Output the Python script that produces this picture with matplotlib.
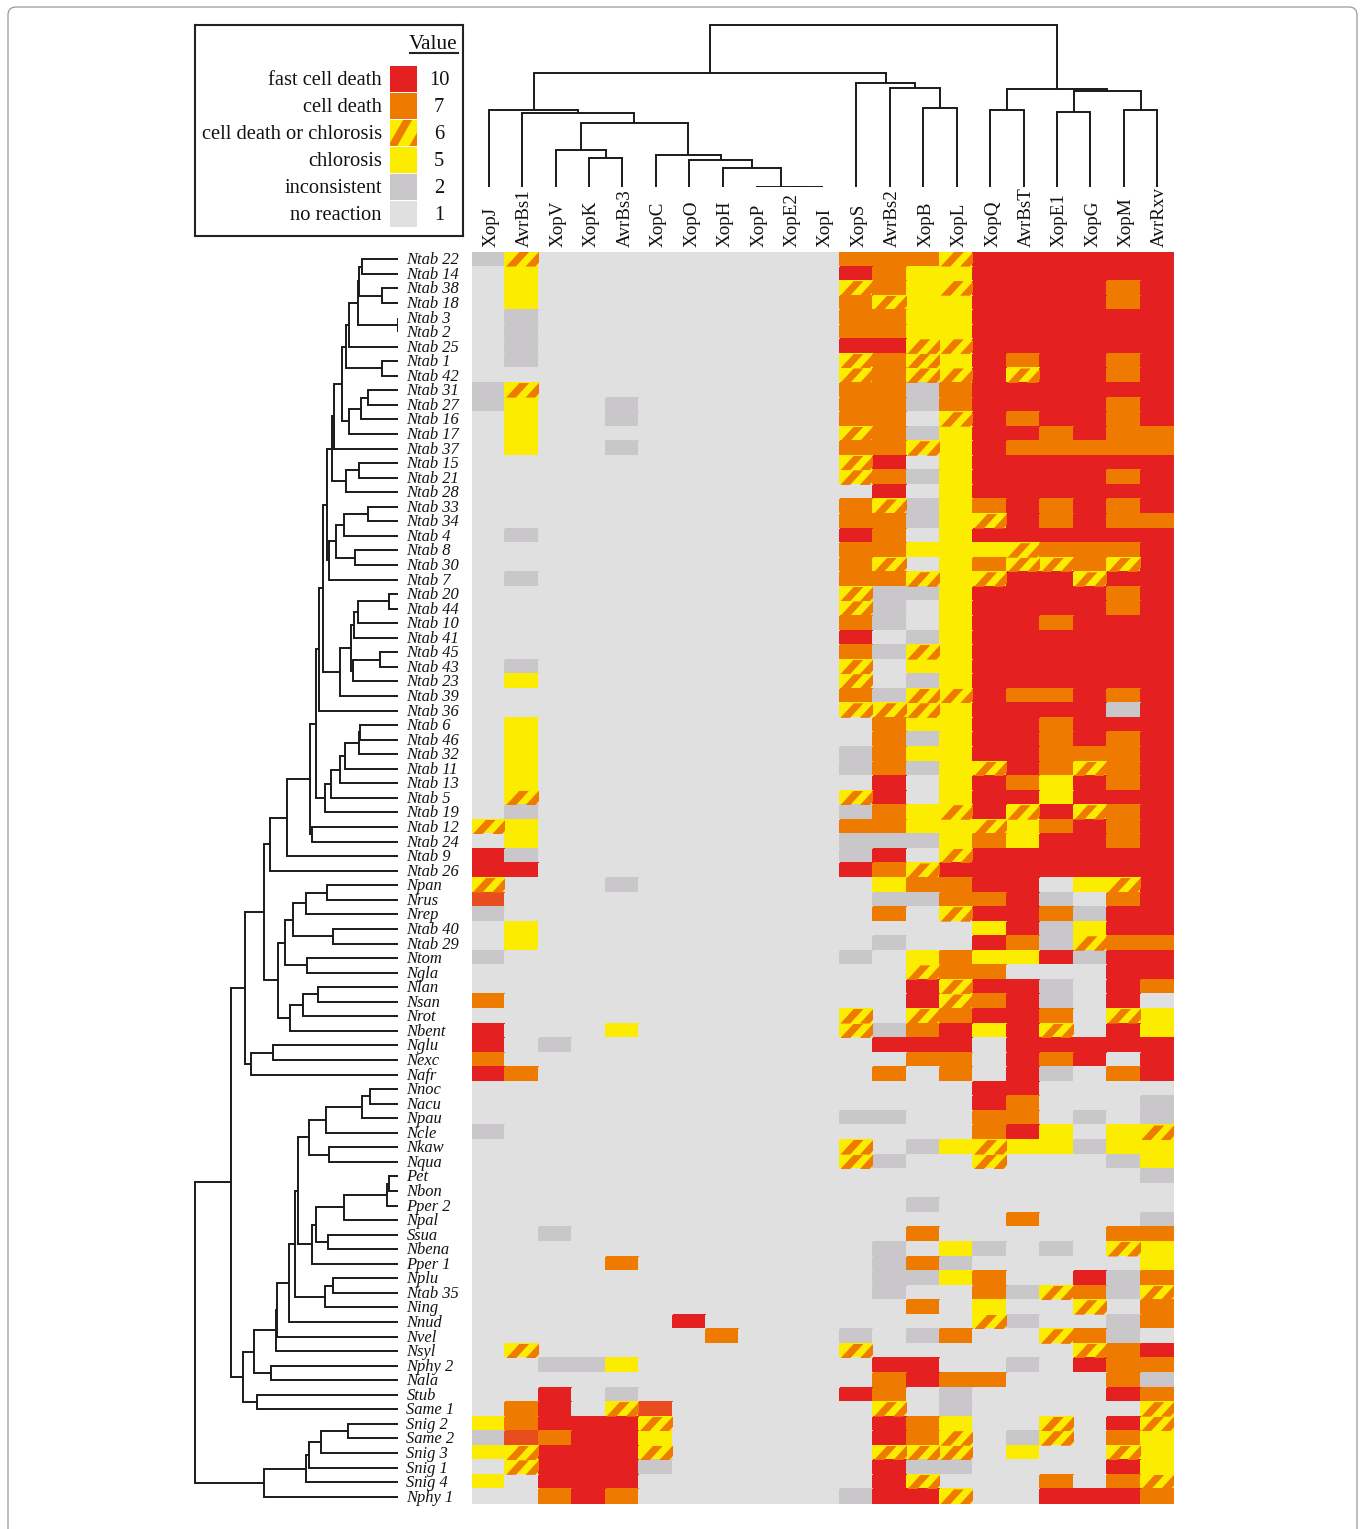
import matplotlib
matplotlib.use("Agg")
import matplotlib.pyplot as plt
from matplotlib.colors import ListedColormap, BoundaryNorm
from matplotlib.patches import Polygon, Rectangle, FancyBboxPatch
from matplotlib.transforms import ScaledTranslation

W, H = 1360, 1529
plt.rcParams['font.family'] = ['Liberation Serif', 'DejaVu Serif']

effectors = ["XopJ", "AvrBs1", "XopV", "XopK", "AvrBs3", "XopC", "XopO", "XopH", "XopP", "XopE2", "XopI",
             "XopS", "AvrBs2", "XopB", "XopL", "XopQ", "AvrBsT", "XopE1", "XopG", "XopM", "AvrRxv"]

taxa = ["Ntab 22", "Ntab 14", "Ntab 38", "Ntab 18", "Ntab 3", "Ntab 2", "Ntab 25", "Ntab 1", "Ntab 42", "Ntab 31",
        "Ntab 27", "Ntab 16", "Ntab 17", "Ntab 37", "Ntab 15", "Ntab 21", "Ntab 28", "Ntab 33", "Ntab 34", "Ntab 4",
        "Ntab 8", "Ntab 30", "Ntab 7", "Ntab 20", "Ntab 44", "Ntab 10", "Ntab 41", "Ntab 45", "Ntab 43", "Ntab 23",
        "Ntab 39", "Ntab 36", "Ntab 6", "Ntab 46", "Ntab 32", "Ntab 11", "Ntab 13", "Ntab 5", "Ntab 19", "Ntab 12",
        "Ntab 24", "Ntab 9", "Ntab 26", "Npan", "Nrus", "Nrep", "Ntab 40", "Ntab 29", "Ntom", "Ngla",
        "Nlan", "Nsan", "Nrot", "Nbent", "Nglu", "Nexc", "Nafr", "Nnoc", "Nacu", "Npau",
        "Ncle", "Nkaw", "Nqua", "Pet", "Nbon", "Pper 2", "Npal", "Ssua", "Nbena", "Pper 1",
        "Nplu", "Ntab 35", "Ning", "Nnud", "Nvel", "Nsyl", "Nphy 2", "Nala", "Stub", "Same 1",
        "Snig 2", "Same 2", "Snig 3", "Snig 1", "Snig 4", "Nphy 1"]

# Scores per taxon: N no reaction, G inconsistent, Y chlorosis, H cell death or chlorosis,
# O cell death, E strong cell death, R fast cell death.
# First block: XopJ ... XopI (trailing N omitted)
scores_first = ["GH", "NY", "NY", "NY", "NG", "NG", "NG", "NG", "N", "GH",
                "GYNNG", "NYNNG", "NY", "NYNNG", "N", "N", "N", "N", "N", "NG",
                "N", "N", "NG", "N", "N", "N", "N", "N", "NG", "NY",
                "N", "N", "NY", "NY", "NY", "NY", "NY", "NH", "NG", "HY",
                "NY", "RG", "RR", "HNNNG", "E", "G", "NY", "NY", "G", "N",
                "N", "O", "N", "RNNNY", "RNG", "O", "RO", "N", "N", "N",
                "G", "N", "N", "N", "N", "N", "N", "NNG", "N", "NNNNO",
                "N", "N", "N", "NNNNNNR", "NNNNNNNO", "NH", "NNGGY", "N", "NNRNG", "NORNHE",
                "YORRRH", "GEORRY", "YHRRRH", "NHRRRG", "YNRRR", "NNORO"]
# Second block: XopS ... AvrRxv
scores_second = ["OOOHRRRRRR", "ROYYRRRRRR", "HOYHRRRROR", "OHYYRRRROR", "OOYYRRRRRR", "OOYYRRRRRR",
                 "RRHHRRRRRR", "HOHYRORROR", "HOHHRHRROR", "OOGORRRRRR", "OOGORRRROR", "OONHRORROR",
                 "HOGYRRORRO"[:8] + "OO", "OOHYROOOOO", "HRNYRRRRRR", "HOGYRRRROR", "NRNYRRRRRR", "OHGYOROROR",
                 "OOGYHROROO", "RONYRRRRRR", "OOYYYHOOOR", "OHNYOHHOHR", "OOHYHRRHRR", "HGGYRRRROR",
                 "HGNYRRRROR", "OGNYRRORRR", "RNGYRRRRRR", "OGHYRRRRRR", "HNYYRRRRRR", "HNGYRRRRRR",
                 "OGHHROOROR", "HHHYRRRRGR", "NOYYRRORRR", "NOGYRROROR", "GOYYRROOOR", "GOGYHROHOR",
                 "NRNYROYROR", "HRNYRRYRRR", "GOYHRHRHOR", "OOYYHYOROR", "GGGYOYRROR", "GRNHRRRRRR",
                 "ROHRRRRRRR", "NYOORRNYHR", "NGGOORGNOR", "NONHRROGRR", "NNNNYRGYRR", "NGNNROGHOO",
                 "GNYOYYRGRR", "NNHOONNNRR", "NNRHRRGNRO", "NNRHORGNRN", "HNHORRONHY", "HGORYRHNRY",
                 "NRRRNRRRRR", "NNOONRORNR", "NONONRGNOR", "NNNNRRNNNN", "NNNNRONNNG", "GGNNOONGNG",
                 "NNNNORYNYH", "HNGYHYYGYY", "HGNNHNNNGY", "NNNNNNNNNG", "NNNNNNNNNN", "NNGNNNNNNN",
                 "NNNNNONNNG", "NNONNNNNOO", "NGNYGNGNHY", "NGOGNNNNNY", "NGGYONNRGO", "NGNNOGHOGH",
                 "NNONYNNHNO", "NNNNHGNNGO", "GNGONNHOGN", "HNNNNNNHOR", "NRRNNGNROO", "NOROONNNOG",
                 "RONGNNNNRO", "NHNGNNNNNH", "NROYNNHNRH", "NROHNGHNOY", "NHHHNYNNHY", "NRGGNNNNRY",
                 "NRHNNNONOH", "GRRHNNRRRO"]

score_codes = "NGYHOER"
score_values = [1, 2, 5, 6, 7, 8, 10]
score_colors = ["#E0E0E0", "#C9C7C9", "#FCEC00", "#FCEC00", "#EE7B00", "#E84D20", "#E52020"]

legend_names = ["fast cell death", "cell death", "cell death or chlorosis", "chlorosis", "inconsistent", "no reaction"]
legend_values = [10, 7, 6, 5, 2, 1]
legend_colors = ["#E52020", "#EE7B00", "#FCEC00", "#FCEC00", "#C9C7C9", "#E0E0E0"]

# Dendrograms: (first leaf of branch A, first leaf of branch B, merge distance)
column_merges = [(3, 4, 28.7), (2, 3, 36.7), (9, 10, 0.0), (8, 9, 0.0), (7, 8, 18.7), (6, 7, 26.7), (5, 6, 31.7),
                 (2, 5, 64.0), (1, 2, 74.0), (0, 1, 76.7), (13, 14, 79.0), (12, 13, 99.4), (11, 12, 104.0),
                 (0, 11, 114.4), (15, 16, 76.7), (17, 18, 75.0), (19, 20, 77.4), (17, 19, 96.0), (15, 17, 98.0),
                 (0, 15, 161.7)]
row_merges = [(0, 1, 36.3), (2, 3, 16.0), (0, 2, 39.3), (4, 5, 0.3), (0, 4, 40.0), (0, 6, 49.0), (7, 8, 16.0),
              (0, 7, 52.7), (9, 10, 30.0), (9, 11, 37.3), (9, 12, 49.0), (0, 9, 56.7), (0, 13, 64.3), (14, 15, 39.3),
              (14, 16, 52.3), (0, 14, 66.7), (17, 18, 30.0), (17, 19, 54.7), (20, 21, 43.3), (17, 20, 62.0),
              (17, 22, 69.3), (0, 17, 71.3), (23, 24, 9.7), (23, 25, 40.0), (23, 26, 44.3), (27, 28, 18.7),
              (27, 29, 45.3), (23, 27, 47.0), (23, 30, 58.3), (0, 23, 75.3), (0, 31, 79.7), (32, 33, 38.0),
              (32, 34, 39.3), (32, 35, 53.7), (32, 36, 58.3), (32, 37, 67.0), (32, 38, 73.7), (0, 32, 82.7),
              (39, 40, 86.3), (0, 39, 88.3), (0, 41, 111.7), (0, 42, 129.0), (43, 44, 71.0), (43, 45, 92.3),
              (46, 47, 65.7), (43, 46, 105.7), (48, 49, 91.3), (43, 48, 114.0), (50, 51, 80.3), (50, 52, 95.0),
              (50, 53, 109.0), (43, 50, 120.3), (0, 43, 134.7), (54, 55, 125.7), (54, 56, 147.3), (0, 54, 153.3),
              (57, 58, 28.7), (57, 59, 36.7), (57, 60, 72.3), (61, 62, 69.0), (57, 61, 89.3), (63, 64, 9.7),
              (63, 65, 11.3), (63, 66, 54.7), (67, 68, 70.0), (63, 67, 82.7), (63, 69, 86.0), (57, 63, 101.0),
              (70, 71, 65.0), (70, 72, 73.0), (57, 70, 104.0), (57, 73, 110.0), (57, 74, 121.7), (57, 75, 123.0),
              (76, 77, 127.7), (57, 76, 144.0), (78, 79, 141.3), (57, 78, 155.3), (0, 57, 167.7), (80, 81, 50.0),
              (80, 82, 77.0), (80, 83, 89.3), (80, 84, 92.7), (80, 85, 135.0), (0, 80, 203.3)]


def px_axes(fig, left, top, right, bottom, **kw):
    return fig.add_axes([left / W, 1 - bottom / H, (right - left) / W, (bottom - top) / H], **kw)


def stripes(ax, x, y, w, h, shift, width, period, start):
    """Orange diagonal stripes over one cell; (x, y) is the top-left, y grows downward."""
    clip = Rectangle((x, y), w, h, transform=ax.transData)
    off = start
    while off < 1.0:
        pts = [(x + off * w, y + h), (x + (off + shift) * w, y),
               (x + (off + shift + width) * w, y), (x + (off + width) * w, y + h)]
        poly = Polygon(pts, closed=True, facecolor="#EE7B00", edgecolor="none", zorder=3)
        ax.add_patch(poly)
        poly.set_clip_path(clip)
        off += period


def dendrogram(ax, merges, n, horizontal, lw=1.4):
    """Draw merges; each node sits at the midpoint of its two branches."""
    node = {i: (i + 0.5, 0.0) for i in range(n)}
    for a, b, d in merges:
        pa, da = node[a]
        pb, db = node[b]
        pos = [pa, pa, pb, pb]
        dist = [da, d, d, db]
        if horizontal:
            ax.plot(pos, dist, color="#1a1a1a", lw=lw, solid_joinstyle="miter", solid_capstyle="butt")
        else:
            ax.plot(dist, pos, color="#1a1a1a", lw=lw, solid_joinstyle="miter", solid_capstyle="butt")
        node[a] = ((pa + pb) / 2, d)


fig = plt.figure(figsize=(W / 100, H / 100), dpi=100, facecolor="white")

# page frame
bg = fig.add_axes([0, 0, 1, 1], zorder=-1)
bg.set_xlim(0, W)
bg.set_ylim(H, 0)
bg.axis("off")
bg.add_patch(FancyBboxPatch((8, 7), 1349, 1530, boxstyle="round,pad=0,rounding_size=8",
                            facecolor="white", edgecolor="#9a9a9a", lw=0.9))

# heat map
matrix = []
for first, second in zip(scores_first, scores_second):
    codes = first.ljust(11, "N") + second
    matrix.append([score_values[score_codes.index(c)] for c in codes])

cmap = ListedColormap(score_colors)
norm = BoundaryNorm([0.5, 1.5, 3.5, 5.5, 6.5, 7.5, 9, 11], cmap.N)
ax = px_axes(fig, 472, 252, 1174, 1504)
ax.pcolormesh(range(len(effectors) + 1), range(len(taxa) + 1), matrix, cmap=cmap, norm=norm,
              edgecolors="face", linewidth=0.2)
ax.set_xlim(0, len(effectors))
ax.set_ylim(len(taxa), 0)
for r, row in enumerate(matrix):
    for c, v in enumerate(row):
        if v == 6:
            stripes(ax, c, r, 1, 1, shift=0.40, width=0.29, period=0.58, start=0.02)
for s in ax.spines.values():
    s.set_visible(False)
ax.xaxis.tick_top()
ax.set_xticks([i + 0.5 for i in range(len(effectors))])
ax.set_xticklabels(effectors, rotation=90, fontsize=13.7, va="bottom", ha="center", color="#111111")
ax.tick_params(axis="x", length=0, pad=3.5)
ax.set_yticks([i + 0.5 for i in range(len(taxa))])
ax.set_yticklabels(taxa, fontsize=11.9, style="italic", ha="left", va="center", color="#111111")
ax.tick_params(axis="y", length=0, pad=47.2)
x_shift = ScaledTranslation(2.5 / 100, 0, fig.dpi_scale_trans)
y_shift = ScaledTranslation(0, -1.0 / 100, fig.dpi_scale_trans)
for lab in ax.get_xticklabels():
    lab.set_transform(lab.get_transform() + x_shift)
for lab in ax.get_yticklabels():
    lab.set_transform(lab.get_transform() + y_shift)

# column dendrogram
top = px_axes(fig, 472, 24, 1174, 187)
top.axis("off")
top.set_xlim(0, len(effectors))
top.set_ylim(0, 163)
dendrogram(top, column_merges, len(effectors), True)

# row dendrogram
side = px_axes(fig, 193, 252, 398.5, 1504)
side.axis("off")
side.set_xlim(205.5, 0)
side.set_ylim(len(taxa), 0)
dendrogram(side, row_merges, len(taxa), False)

# legend
leg = px_axes(fig, 195, 25, 463, 236)
leg.set_xlim(195, 463)
leg.set_ylim(236, 25)
leg.set_xticks([])
leg.set_yticks([])
for s in leg.spines.values():
    s.set_linewidth(1.5)
    s.set_color("#222222")
leg.text(433, 44.5, "Value", fontsize=15.3, ha="center", va="center", color="#111111")
leg.plot([410, 458], [53, 53], color="#222222", lw=1.5)
for i, (name, val, col) in enumerate(zip(legend_names, legend_values, legend_colors)):
    y0 = 66 + i * 27
    leg.add_patch(Rectangle((389.5, y0), 27.2, 26, facecolor=col, edgecolor="none"))
    if val == 6:
        stripes(leg, 389.5, y0, 27.2, 26, shift=0.55, width=0.33, period=0.78, start=-0.05)
    leg.text(382, y0 + 14.5, name, fontsize=14.8, ha="right", va="center", color="#111111")
    leg.text(439, y0 + 14.5, str(val), fontsize=14.8, ha="center", va="center", color="#111111")

fig.savefig("out.png", dpi=100)
